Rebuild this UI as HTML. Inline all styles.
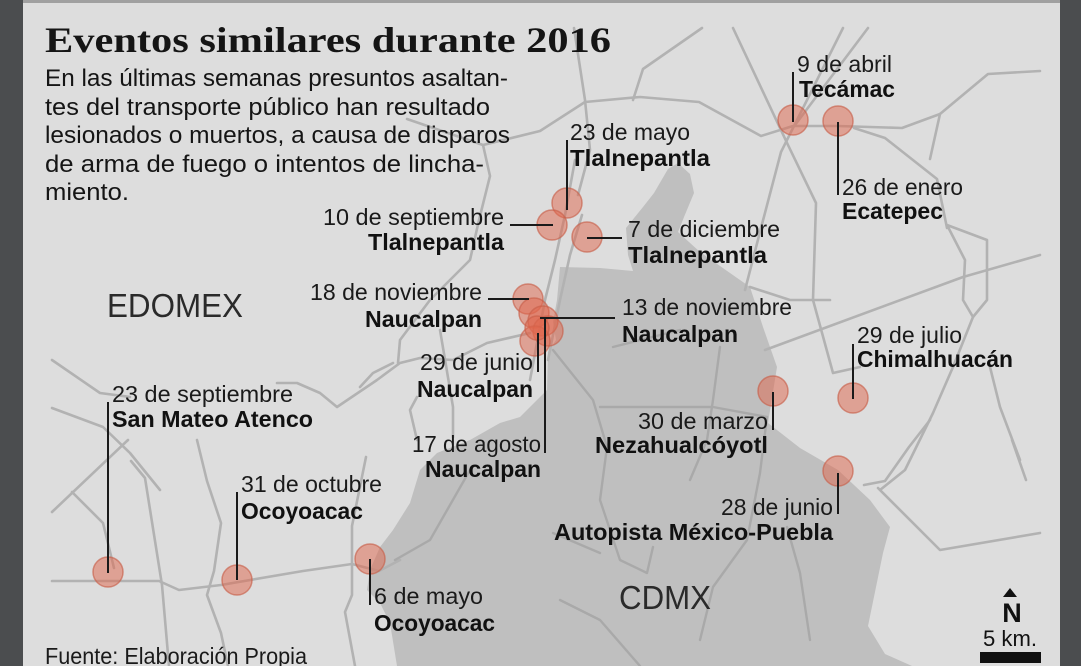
<!DOCTYPE html>
<html><head><meta charset="utf-8"><style>
html,body{margin:0;padding:0;background:#dddddd;}
svg{display:block;}
</style></head><body>
<svg width="1081" height="666" viewBox="0 0 1081 666" xmlns="http://www.w3.org/2000/svg">
<rect x="0" y="0" width="1081" height="666" fill="#dddddd"/>
<!-- CDMX area -->
<polygon fill="#bfbfbf" points="678,163 690,174 694,193 684,217 678,232 700,252 750,287 763,327 777,367 773,392 768,423 800,448 838,470 870,500 890,527 883,553 868,626 885,654 912,666 397,666 390,623 380,603 367,590 370,570 380,547 393,530 410,503 420,470 437,453 470,440 500,423 520,417 547,390 548,352 556,340 553,322 557,300 560,267 600,268 633,271 628,255 626,228 643,207 654,193 668,169"/>
<!-- roads -->
<g fill="none" stroke="#b2b2b2" stroke-width="2.6" stroke-linejoin="round" stroke-linecap="round">
<polyline points="407,119 483,145 540,131 585,102 640,97 699,102 761,136 793,126 838,126 902,128 940,114 988,74 1040,71"/>
<polyline points="574,28 585,100 590,150 578,195"/>
<polyline points="702,28 643,69 633,100"/>
<polyline points="733,28 788,145 816,203 813,300 833,373 860,367"/>
<polyline points="843,28 781,152 761,228 745,290"/>
<polyline points="868,28 795,125"/>
<polyline points="854,128 885,138 937,179 947,228"/>
<polyline points="947,225 987,240 987,300 973,317 963,300 965,260 947,225"/>
<polyline points="973,317 953,367 933,413 905,470 880,490"/>
<polyline points="765,350 963,277 1040,255"/>
<polyline points="940,114 930,159"/>
<polyline points="990,367 1000,407 1020,460"/>
<polyline points="878,488 940,550 1040,533"/>
<polyline points="864,485 885,481 909,447 930,420"/>
<polyline points="1012,440 1026,480"/>
<polyline points="483,145 490,176 479,220 470,260 430,300 400,340 398,363"/>
<polyline points="52,360 100,393 130,397"/>
<polyline points="52,408 103,427 130,453 160,490"/>
<polyline points="52,512 128,440"/>
<polyline points="72,492 103,523 114,568"/>
<polyline points="131,461 145,478 162,585 169,666"/>
<polyline points="52,581 159,581 179,590 221,585 303,571 352,564 379,571 400,560"/>
<polyline points="197,440 207,481 221,523 214,571 207,595 221,633 228,666"/>
<polyline points="366,457 352,526 352,595 345,612 355,666"/>
<polyline points="277,383 297,383 320,393 337,407 377,380 400,363 420,358 453,360 487,343 530,333"/>
<polyline points="440,330 453,407 453,437"/>
<polyline points="393,363 373,373 360,387"/>
<polyline points="417,397 410,410 417,440"/>
<polyline points="530,380 545,300 555,260 565,215 575,160"/>
<polyline points="548,360 560,300 570,255 582,215"/>
<polyline points="750,287 790,300 830,300"/>
</g>
<g fill="none" stroke="#a9a9a9" stroke-width="2.4" stroke-linejoin="round" stroke-linecap="round">
<polyline points="553,350 593,400 607,447 600,500 620,560 647,573 653,547"/>
<polyline points="600,407 713,407 767,417"/>
<polyline points="720,347 713,400 707,440 690,480"/>
<polyline points="767,417 760,473 747,540 713,587 700,640"/>
<polyline points="787,527 800,573 810,640"/>
<polyline points="613,347 680,330"/>
<polyline points="553,533 600,553"/>
<polyline points="395,560 430,540 470,470"/>
<polyline points="560,600 600,620 640,666"/>
</g>
<!-- circles -->
<g fill="#e0664c" fill-opacity="0.5" stroke="#c8604a" stroke-opacity="0.65" stroke-width="1.5">
<circle cx="793" cy="120" r="15"/>
<circle cx="838" cy="121" r="15"/>
<circle cx="567" cy="203" r="15"/>
<circle cx="552" cy="225" r="15"/>
<circle cx="587" cy="237" r="15"/>
<circle cx="528" cy="299" r="15"/>
<circle cx="534" cy="313" r="15"/>
<circle cx="543" cy="321" r="15"/>
<circle cx="548" cy="331" r="15"/>
<circle cx="535" cy="341" r="15"/>
<circle cx="537" cy="328" r="12"/>
<circle cx="773" cy="391" r="15"/>
<circle cx="853" cy="398" r="15"/>
<circle cx="838" cy="471" r="15"/>
<circle cx="108" cy="572" r="15"/>
<circle cx="237" cy="580" r="15"/>
<circle cx="370" cy="559" r="15"/>
</g>
<!-- leader lines -->
<g stroke="#1a1a1a" stroke-width="2" fill="none">
<line x1="793" y1="72" x2="793" y2="122"/>
<line x1="838" y1="122" x2="838" y2="195"/>
<line x1="567" y1="140" x2="567" y2="210"/>
<line x1="510" y1="225" x2="553" y2="225"/>
<line x1="587" y1="238" x2="622" y2="238"/>
<line x1="488" y1="299" x2="529" y2="299"/>
<line x1="540" y1="318" x2="615" y2="318"/>
<line x1="538" y1="333" x2="538" y2="372"/>
<line x1="545" y1="317" x2="545" y2="453"/>
<line x1="773" y1="392" x2="773" y2="430"/>
<line x1="853" y1="344" x2="853" y2="399"/>
<line x1="838" y1="473" x2="838" y2="514"/>
<line x1="108" y1="402" x2="108" y2="573"/>
<line x1="237" y1="492" x2="237" y2="580"/>
<line x1="370" y1="559" x2="370" y2="605"/>
</g>
<!-- title & intro -->
<g fill="#151515">
<text x="45" y="52" font-family="Liberation Serif, serif" font-weight="bold" font-size="36" textLength="566" lengthAdjust="spacingAndGlyphs">Eventos similares durante 2016</text>
<g font-family="Liberation Sans, sans-serif" font-size="24">
<text x="45" y="86" textLength="463" lengthAdjust="spacingAndGlyphs">En las últimas semanas presuntos asaltan-</text>
<text x="45" y="115" textLength="445" lengthAdjust="spacingAndGlyphs">tes del transporte público han resultado</text>
<text x="45" y="143" textLength="465" lengthAdjust="spacingAndGlyphs">lesionados o muertos, a causa de disparos</text>
<text x="45" y="172" textLength="439" lengthAdjust="spacingAndGlyphs">de arma de fuego o intentos de lincha-</text>
<text x="45" y="200" textLength="84" lengthAdjust="spacingAndGlyphs">miento.</text>
</g>
</g>
<!-- region labels -->
<g fill="#2a2a2a" font-family="Liberation Sans, sans-serif" font-size="33">
<text x="107" y="317" textLength="136" lengthAdjust="spacingAndGlyphs">EDOMEX</text>
<text x="619" y="609" textLength="92" lengthAdjust="spacingAndGlyphs">CDMX</text>
</g>
<!-- date labels -->
<g fill="#1a1a1a" font-family="Liberation Sans, sans-serif" font-size="23">
<text x="797" y="72" textLength="95" lengthAdjust="spacingAndGlyphs">9 de abril</text>
<text x="570" y="140" textLength="120" lengthAdjust="spacingAndGlyphs">23 de mayo</text>
<text x="842" y="195" textLength="121" lengthAdjust="spacingAndGlyphs">26 de enero</text>
<text x="504" y="225" text-anchor="end" textLength="181" lengthAdjust="spacingAndGlyphs">10 de septiembre</text>
<text x="628" y="237" textLength="152" lengthAdjust="spacingAndGlyphs">7 de diciembre</text>
<text x="482" y="300" text-anchor="end" textLength="172" lengthAdjust="spacingAndGlyphs">18 de noviembre</text>
<text x="622" y="315" textLength="170" lengthAdjust="spacingAndGlyphs">13 de noviembre</text>
<text x="533" y="370" text-anchor="end" textLength="113" lengthAdjust="spacingAndGlyphs">29 de junio</text>
<text x="541" y="452" text-anchor="end" textLength="129" lengthAdjust="spacingAndGlyphs">17 de agosto</text>
<text x="768" y="429" text-anchor="end" textLength="130" lengthAdjust="spacingAndGlyphs">30 de marzo</text>
<text x="857" y="343" textLength="105" lengthAdjust="spacingAndGlyphs">29 de julio</text>
<text x="833" y="515" text-anchor="end" textLength="112" lengthAdjust="spacingAndGlyphs">28 de junio</text>
<text x="112" y="402" textLength="181" lengthAdjust="spacingAndGlyphs">23 de septiembre</text>
<text x="241" y="492" textLength="141" lengthAdjust="spacingAndGlyphs">31 de octubre</text>
<text x="374" y="604" textLength="109" lengthAdjust="spacingAndGlyphs">6 de mayo</text>
<text x="45" y="664" textLength="262" lengthAdjust="spacingAndGlyphs">Fuente: Elaboración Propia</text>
</g>
<!-- place labels -->
<g fill="#111" font-family="Liberation Sans, sans-serif" font-size="23" font-weight="bold">
<text x="799" y="97" textLength="96" lengthAdjust="spacingAndGlyphs">Tecámac</text>
<text x="570" y="166" textLength="140" lengthAdjust="spacingAndGlyphs">Tlalnepantla</text>
<text x="842" y="219" textLength="101" lengthAdjust="spacingAndGlyphs">Ecatepec</text>
<text x="504" y="250" text-anchor="end" textLength="136" lengthAdjust="spacingAndGlyphs">Tlalnepantla</text>
<text x="628" y="263" textLength="139" lengthAdjust="spacingAndGlyphs">Tlalnepantla</text>
<text x="482" y="327" text-anchor="end" textLength="117" lengthAdjust="spacingAndGlyphs">Naucalpan</text>
<text x="622" y="342" textLength="116" lengthAdjust="spacingAndGlyphs">Naucalpan</text>
<text x="533" y="397" text-anchor="end" textLength="116" lengthAdjust="spacingAndGlyphs">Naucalpan</text>
<text x="541" y="477" text-anchor="end" textLength="116" lengthAdjust="spacingAndGlyphs">Naucalpan</text>
<text x="768" y="453" text-anchor="end" textLength="173" lengthAdjust="spacingAndGlyphs">Nezahualcóyotl</text>
<text x="857" y="367" textLength="156" lengthAdjust="spacingAndGlyphs">Chimalhuacán</text>
<text x="833" y="540" text-anchor="end" textLength="279" lengthAdjust="spacingAndGlyphs">Autopista México-Puebla</text>
<text x="112" y="427" textLength="201" lengthAdjust="spacingAndGlyphs">San Mateo Atenco</text>
<text x="241" y="519" textLength="122" lengthAdjust="spacingAndGlyphs">Ocoyoacac</text>
<text x="374" y="631" textLength="121" lengthAdjust="spacingAndGlyphs">Ocoyoacac</text>
</g>
<!-- compass & scale -->
<polygon points="1003,597 1010,588 1017,597" fill="#111"/>
<text x="1012" y="622" text-anchor="middle" font-family="Liberation Sans, sans-serif" font-weight="bold" font-size="27" fill="#111">N</text>
<text x="983" y="646" font-family="Liberation Sans, sans-serif" font-size="22" fill="#111" textLength="54" lengthAdjust="spacingAndGlyphs">5 km.</text>
<rect x="980" y="652" width="61" height="11" fill="#111"/>
<!-- frame -->
<rect x="0" y="0" width="1081" height="3" fill="#a0a0a0"/>
<rect x="0" y="0" width="23" height="666" fill="#4b4d4f"/>
<rect x="1060" y="0" width="21" height="666" fill="#4b4d4f"/>
</svg>
</body></html>
